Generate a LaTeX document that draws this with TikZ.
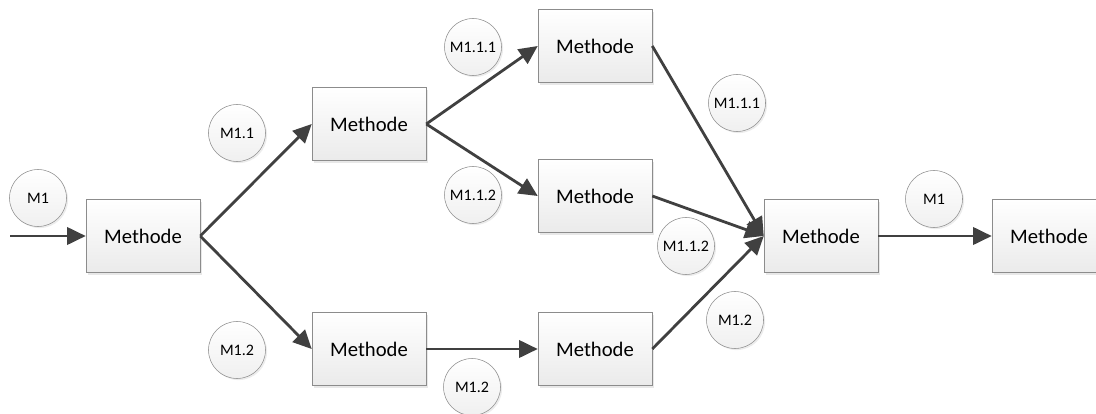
\documentclass[tikz,border=0pt]{standalone}
\usepackage{fontspec}
\setmainfont{Carlito}
\usetikzlibrary{arrows.meta,shadows}

\begin{document}
\begin{tikzpicture}[x=0.75pt,y=-0.75pt]
\tikzset{edge/.style = {-{Triangle[length=14pt,width=13pt]}, line width=2.1pt, draw=black!75}}
\tikzset{method/.style = {shape=rectangle, draw=black!45, thin, top color=white, bottom color=black!8,
  minimum width=85.5pt, minimum height=54.75pt, font=\fontsize{15.5}{18}\selectfont,
  drop shadow={opacity=0.18, shadow xshift=1.5pt, shadow yshift=-1.5pt}}}
\tikzset{mark label/.style = {shape=circle, draw=black!45, thin, top color=white, bottom color=black!6,
  minimum size=42.75pt, inner sep=0pt, font=\fontsize{12}{14}\selectfont,
  drop shadow={opacity=0.15, shadow xshift=1.2pt, shadow yshift=-1.2pt}}}
\useasboundingbox (0,0) rectangle (1096,414);
% methods
\node[method](m0) at (143,236) {Methode};
\node[method](m1) at (369,124) {Methode};
\node[method](m2) at (369,349) {Methode};
\node[method](m3) at (595,46) {Methode};
\node[method](m4) at (595,196) {Methode};
\node[method](m5) at (595,349) {Methode};
\node[method](m6) at (821,236) {Methode};
\node[method](m7) at (1049,236) {Methode};
\coordinate (in) at (10,236);
% labels
\node[mark label](l0) at (38,198) {M1};
\node[mark label](l1) at (237,133) {M1.1};
\node[mark label](l2) at (237,350) {M1.2};
\node[mark label](l3) at (473,47) {M1.1.1};
\node[mark label](l4) at (473,195) {M1.1.2};
\node[mark label](l5) at (472,387) {M1.2};
\node[mark label](l6) at (737,103) {M1.1.1};
\node[mark label](l7) at (686,246) {M1.1.2};
\node[mark label](l8) at (735,320) {M1.2};
\node[mark label](l9) at (934,199) {M1};
% edges
\draw[edge] (in) -- (m0.west);
\draw[edge] (m0.east) -- (m1.west);
\draw[edge] (m0.east) -- (m2.west);
\draw[edge] (m1.east) -- (m3.west);
\draw[edge] (m1.east) -- (m4.west);
\draw[edge] (m2.east) -- (m5.west);
\draw[edge] (m3.east) -- (m6.west);
\draw[edge] (m4.east) -- (m6.west);
\draw[edge] (m5.east) -- (m6.west);
\draw[edge] (m6.east) -- (m7.west);
\end{tikzpicture}
\end{document}
